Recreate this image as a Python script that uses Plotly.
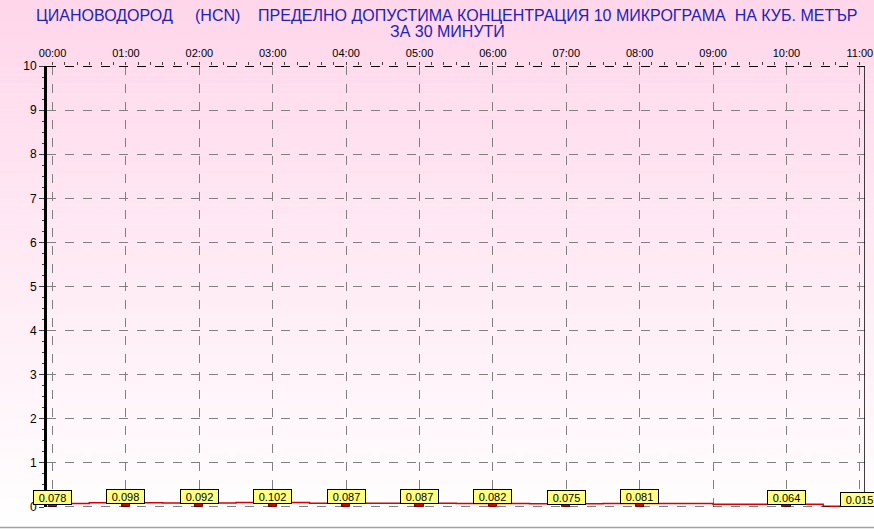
import plotly.graph_objects as go

# ---- data ----
hours = [0, 1, 2, 3, 4, 5, 6, 7, 8, 10, 11]
values = [0.078, 0.098, 0.092, 0.102, 0.087, 0.087, 0.082, 0.075, 0.081, 0.064, 0.015]
value_labels = ["0.078", "0.098", "0.092", "0.102", "0.087", "0.087", "0.082",
                "0.075", "0.081", "0.064", "0.015"]
tick_hours = list(range(0, 12))
tick_labels = ["%02d:00" % h for h in tick_hours]
y_ticks = list(range(0, 11))
title_line1 = ("ЦИАНОВОДОРОД\u00a0\u00a0\u00a0\u00a0\u00a0(HCN)\u00a0\u00a0\u00a0\u00a0ПРЕДЕЛНО ДОПУСТИМА "
               "КОНЦЕНТРАЦИЯ 10 МИКРОГРАМА\u00a0\u00a0НА КУБ. МЕТЪР")
title_line2 = "ЗА 30 МИНУТИ"

W, H = 874, 529
L, R, T, B = 47, 9, 66, 22
XR = [-0.076, 11.07]
YR = [0, 10]

fig = go.Figure()

# step line
fig.add_trace(go.Scatter(x=hours, y=values, mode="lines", line_shape="hvh",
                         line=dict(color="#D80000", width=1.5),
                         hoverinfo="skip", showlegend=False, cliponaxis=False))
# small bars
fig.add_trace(go.Bar(x=hours, y=values, width=0.11,
                     marker=dict(color="#D00000", line=dict(color="#800000", width=1)),
                     showlegend=False, hoverinfo="skip"))

# gradient background bands (paper coordinates)
shapes = []
plot_h = H - T - B
n = 106
for i in range(n):
    p0 = i * H / n
    p1 = (i + 1) * H / n
    t = (p0 + p1) / 2 / H
    g = int(round(214 + (255 - 214) * t))
    b = int(round(234 + (255 - 234) * t))
    shapes.append(dict(type="rect", xref="paper", yref="paper",
                       x0=-L / (W - L - R) - 0.01, x1=1 + (R + 2) / (W - L - R),
                       y0=(H - B - p1) / plot_h, y1=(H - B - p0) / plot_h + 0.001,
                       fillcolor="rgb(255,%d,%d)" % (g, b), line=dict(width=0),
                       layer="below"))

# borders
shapes.append(dict(type="line", xref="x", yref="y", x0=XR[0], x1=XR[1], y0=10, y1=10,
                   line=dict(color="black", width=2, dash="dash"), layer="above"))
shapes.append(dict(type="line", xref="x", yref="y", x0=XR[0], x1=XR[1], y0=0, y1=0,
                   line=dict(color="black", width=1, dash="dash"), layer="above"))
shapes.append(dict(type="line", xref="x", yref="y", x0=XR[1], x1=XR[1], y0=0, y1=10,
                   line=dict(color="black", width=1.5), layer="above"))
# window frame line
shapes.append(dict(type="line", xref="paper", yref="paper",
                   x0=-L / (W - L - R), x1=1 + R / (W - L - R),
                   y0=-(B - 1.5) / plot_h, y1=-(B - 1.5) / plot_h,
                   line=dict(color="#A0A0A0", width=1.5)))

annotations = []
for h, v, s in zip(hours, values, value_labels):
    annotations.append(dict(x=h, y=v, xref="x", yref="y", text=s, showarrow=False,
                            yanchor="bottom", xanchor="center", yshift=-1,
                            bgcolor="#FFFF80", bordercolor="black", borderwidth=1,
                            borderpad=0, width=37, height=13,
                            font=dict(family="Arial, Liberation Sans", size=11, color="black")))

cx = (447 - L) / (W - L - R)
annotations.append(dict(x=cx, y=(H - B - 15) / plot_h, xref="paper", yref="paper",
                        text=title_line1, showarrow=False, xanchor="center", yanchor="middle",
                        font=dict(family="Arial, Liberation Sans", size=16, color="#2222B8")))
annotations.append(dict(x=cx, y=(H - B - 32) / plot_h, xref="paper", yref="paper",
                        text=title_line2, showarrow=False, xanchor="center", yanchor="middle",
                        font=dict(family="Arial, Liberation Sans", size=16, color="#2222B8")))

fig.update_layout(
    width=W, height=H,
    margin=dict(l=L, r=R, t=T, b=B, pad=0, autoexpand=False),
    paper_bgcolor="white", plot_bgcolor="rgba(0,0,0,0)",
    shapes=shapes, annotations=annotations,
    showlegend=False, bargap=0,
    font=dict(family="Arial, Liberation Sans", size=11, color="black"),
)
fig.update_xaxes(range=XR, side="top", tickvals=tick_hours, ticktext=tick_labels,
                 automargin=False,
                 showgrid=True, gridcolor="#808080", griddash="dash", gridwidth=1,
                 zeroline=False, showline=False,
                 ticks="outside", ticklen=3, tickcolor="#404040",
                 ticklabelstandoff=1,
                 minor=dict(dtick=1 / 6, ticks="outside", ticklen=3, tickcolor="#404040",
                            showgrid=False),
                 tickfont=dict(size=11, color="black"), fixedrange=True)
fig.update_yaxes(range=YR, tickvals=y_ticks, showgrid=True, gridcolor="#808080",
                 automargin=False,
                 griddash="dash", gridwidth=1, zeroline=False,
                 showline=True, linecolor="black", linewidth=3,
                 ticks="outside", ticklen=5, tickcolor="#404040",
                 ticklabelstandoff=0,
                 minor=dict(dtick=0.25, ticks="outside", ticklen=2, tickcolor="#404040",
                            showgrid=False),
                 tickfont=dict(size=12, color="black"), fixedrange=True)

fig.write_html("out.html", config={"displayModeBar": False},
               post_script="document.body.style.margin='0';document.body.style.padding='0';")
